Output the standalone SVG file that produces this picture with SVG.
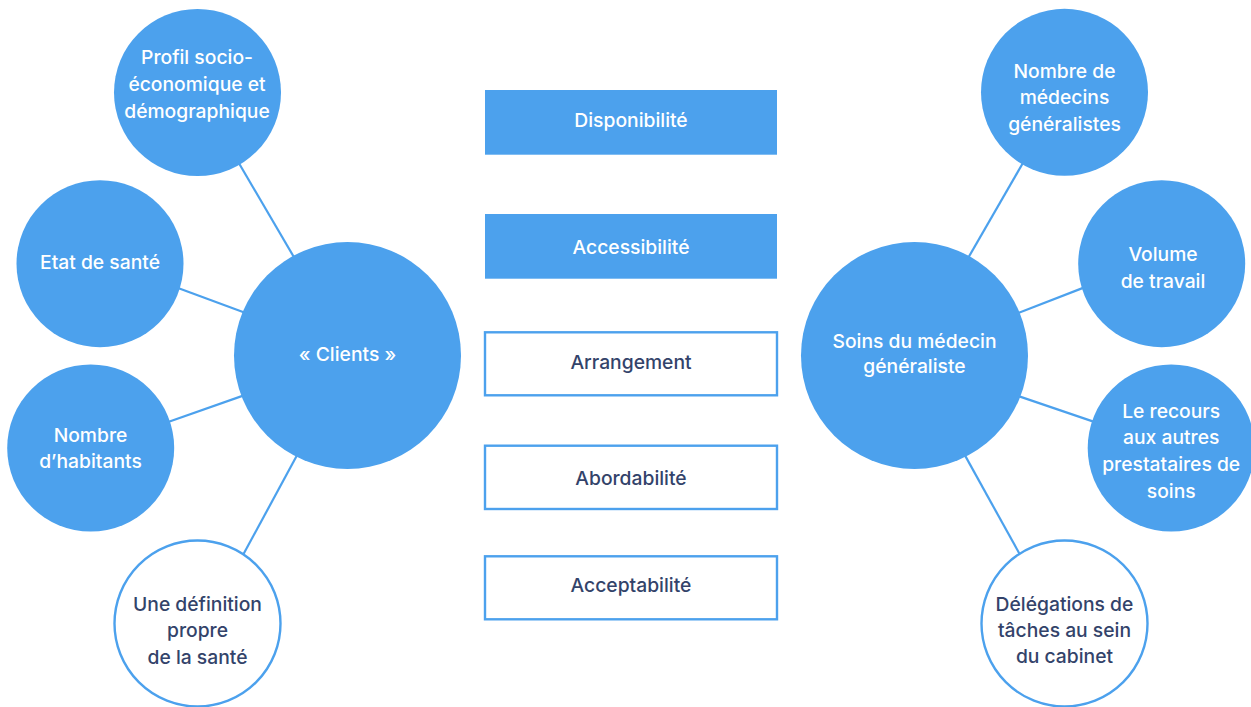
<svg xmlns="http://www.w3.org/2000/svg" width="1251" height="707" viewBox="0 0 1251 707">
  <style>
    .bg { fill: #ffffff; }
    .fill { fill: #4ca1ed; }
    .ring { fill: #ffffff; stroke: #4ca1ed; stroke-width: 2.4; }
    .link { stroke: #4ca1ed; stroke-width: 2.2; fill: none; }
    text { font-family: Inter, "Liberation Sans", sans-serif; font-size: 19.3px; font-weight: 500; text-anchor: middle; }
    .light { fill: #ffffff; }
    .dark { fill: #33436a; }
  </style>
  <rect class="bg" x="0" y="0" width="1251" height="707"/>

  <!-- connectors between the hubs and their satellites -->
  <g id="connectors">
    <line class="link" x1="237.5" y1="160.7" x2="295.8" y2="260.3"/>
    <line class="link" x1="175.3" y1="287" x2="247.7" y2="313.7"/>
    <line class="link" x1="166" y1="422.7" x2="246" y2="394.6"/>
    <line class="link" x1="298.1" y1="453.3" x2="241.9" y2="557.1"/>
    <line class="link" x1="1024.2" y1="160.7" x2="966.8" y2="260.3"/>
    <line class="link" x1="1085.7" y1="286.9" x2="1015.3" y2="314.1"/>
    <line class="link" x1="1016.3" y1="395.4" x2="1096.4" y2="422.6"/>
    <line class="link" x1="963.6" y1="452.9" x2="1021.1" y2="556.7"/>
  </g>

  <!-- left cluster -->
  <g id="profil">
    <circle class="fill" cx="197.5" cy="92.5" r="83.5"/>
    <text class="light" x="197" y="64.3">Profil socio-</text>
    <text class="light" x="197" y="91">économique et</text>
    <text class="light" x="197" y="117.7">démographique</text>
  </g>
  <g id="etat">
    <circle class="fill" cx="100" cy="263.7" r="83.5"/>
    <text class="light" x="100" y="269.3">Etat de santé</text>
  </g>
  <g id="habitants">
    <circle class="fill" cx="90.7" cy="448" r="83.5"/>
    <text class="light" x="90.5" y="442.3">Nombre</text>
    <text class="light" x="90.5" y="468.3">d’habitants</text>
  </g>
  <g id="definition">
    <circle class="ring" cx="197.5" cy="623.5" r="83"/>
    <text class="dark" x="197.5" y="610.7">Une définition</text>
    <text class="dark" x="197.5" y="637.3">propre</text>
    <text class="dark" x="197.5" y="664">de la santé</text>
  </g>
  <g id="clients">
    <circle class="fill" cx="347.5" cy="355.5" r="113.5"/>
    <text class="light" x="347.5" y="361">« Clients »</text>
  </g>

  <!-- dimensions column -->
  <g id="disponibilite">
    <rect class="fill" x="485" y="90" width="292" height="64.7"/>
    <text class="light" x="631" y="126.7">Disponibilité</text>
  </g>
  <g id="accessibilite">
    <rect class="fill" x="485" y="214" width="292" height="64.7"/>
    <text class="light" x="631" y="253.7">Accessibilité</text>
  </g>
  <g id="arrangement">
    <rect class="ring" x="485" y="332.3" width="292" height="63"/>
    <text class="dark" x="631" y="368.7">Arrangement</text>
  </g>
  <g id="abordabilite">
    <rect class="ring" x="485" y="445.7" width="292" height="63.3"/>
    <text class="dark" x="631" y="485">Abordabilité</text>
  </g>
  <g id="acceptabilite">
    <rect class="ring" x="485" y="556.3" width="292" height="63"/>
    <text class="dark" x="631" y="591.7">Acceptabilité</text>
  </g>

  <!-- right cluster -->
  <g id="soins">
    <circle class="fill" cx="914.5" cy="355.5" r="113.5"/>
    <text class="light" x="914.5" y="347.7">Soins du médecin</text>
    <text class="light" x="914.5" y="373.3">généraliste</text>
  </g>
  <g id="medecins">
    <circle class="fill" cx="1064.5" cy="92.3" r="83.5"/>
    <text class="light" x="1064.5" y="77.7">Nombre de</text>
    <text class="light" x="1064.5" y="104">médecins</text>
    <text class="light" x="1064.5" y="130.5">généralistes</text>
  </g>
  <g id="volume">
    <circle class="fill" cx="1161.7" cy="263.7" r="83.5"/>
    <text class="light" x="1163" y="261">Volume</text>
    <text class="light" x="1163" y="287.7">de travail</text>
  </g>
  <g id="recours">
    <circle class="fill" cx="1171.2" cy="448" r="83.5"/>
    <text class="light" x="1171.2" y="418">Le recours</text>
    <text class="light" x="1171.2" y="444">aux autres</text>
    <text class="light" x="1171.2" y="471">prestataires de</text>
    <text class="light" x="1171.2" y="497.7">soins</text>
  </g>
  <g id="delegations">
    <circle class="ring" cx="1064.5" cy="623.5" r="83"/>
    <text class="dark" x="1064.5" y="610.7">Délégations de</text>
    <text class="dark" x="1064.5" y="636.7">tâches au sein</text>
    <text class="dark" x="1064.5" y="663.3">du cabinet</text>
  </g>
</svg>
